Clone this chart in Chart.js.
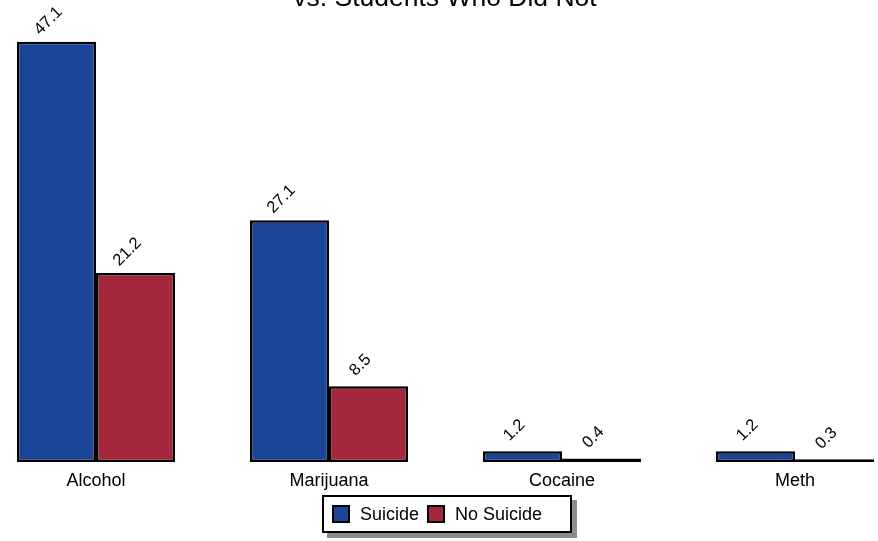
<!DOCTYPE html>
<html>
<head>
<meta charset="utf-8">
<script src="https://cdn.jsdelivr.net/npm/chart.js@4/dist/chart.umd.min.js"></script>
<style>
  html, body { margin: 0; padding: 0; background: #fff; overflow: hidden; }
  body { width: 878px; height: 541px; position: relative; font-family: "Liberation Sans", Arial, sans-serif; }
  #chart { position: absolute; left: -21px; top: 0; }
  #title { position: absolute; left: -21px; width: 932px; top: -16px; text-align: center; font-size: 26.5px; line-height: 27px; color: #000; }
  #legend { position: absolute; left: 322px; top: 495px; width: 246px; height: 34px; border: 2px solid #000; background: #fff;
            box-shadow: 5px 5px 0 #8c8c8c; display: flex; align-items: center; font-size: 18px; }
  .sw { width: 14px; height: 14px; border: 2px solid #000; display: inline-block; margin-right: 10px; }
  .item { display: flex; align-items: center; margin-left: 8px; }
</style>
</head>
<body>
<canvas id="chart" width="933" height="541"></canvas>
<div id="title">vs. Students Who Did Not</div>
<div id="legend"></div>
<script>
const categorias = ["Alcohol", "Marijuana", "Cocaine", "Meth"];
const suicidio = [47.1, 27.1, 1.2, 1.2];
const noSuicidio = [21.2, 8.5, 0.4, 0.3];
const series = [
  { label: "Suicide", data: suicidio, color: "#1b4597" },
  { label: "No Suicide", data: noSuicidio, color: "#a5273b" }
];

// Legend HTML
const legend = document.getElementById("legend");
series.forEach(s => {
  const item = document.createElement("div");
  item.className = "item";
  item.innerHTML = `<span class="sw" style="background:${s.color}"></span><span>${s.label}</span>`;
  legend.appendChild(item);
});

// Etiquetas rotadas sobre cada barra
const etiquetas = {
  id: "etiquetas",
  afterDatasetsDraw(chart) {
    const ctx = chart.ctx;
    ctx.save();
    ctx.font = '16.5px "Liberation Sans", Arial, sans-serif';
    ctx.fillStyle = "#000";
    ctx.textAlign = "center";
    ctx.textBaseline = "middle";
    chart.data.datasets.forEach((ds, i) => {
      chart.getDatasetMeta(i).data.forEach((bar, j) => {
        ctx.save();
        ctx.translate(bar.x - 8, bar.y - 21);
        ctx.rotate(-Math.PI / 4);
        ctx.fillText(ds.data[j].toFixed(1), 0, 0);
        ctx.restore();
      });
    });
    ctx.restore();
  }
};

new Chart(document.getElementById("chart"), {
  type: "bar",
  data: {
    labels: categorias,
    datasets: series.map(s => ({
      label: s.label,
      data: s.data,
      backgroundColor: s.color,
      borderColor: "#000",
      borderWidth: 2.5,
      borderSkipped: false,
      barPercentage: 1.0,
      categoryPercentage: 158 / 233
    }))
  },
  options: {
    responsive: false,
    animation: false,
    layout: { padding: { top: 16, left: 0.5, right: 0.5, bottom: 0 } },
    plugins: {
      legend: { display: false },
      title: { display: false },
      tooltip: { enabled: false }
    },
    scales: {
      x: {
        grid: { display: false, drawTicks: false },
        border: { display: false },
        ticks: { color: "#000", padding: 8, font: { family: '"Liberation Sans", Arial, sans-serif', size: 18 } },
        afterFit: scale => { scale.height = 79; }
      },
      y: { display: false, min: 0, max: 50 }
    }
  },
  plugins: [etiquetas]
});
</script>
</body>
</html>
